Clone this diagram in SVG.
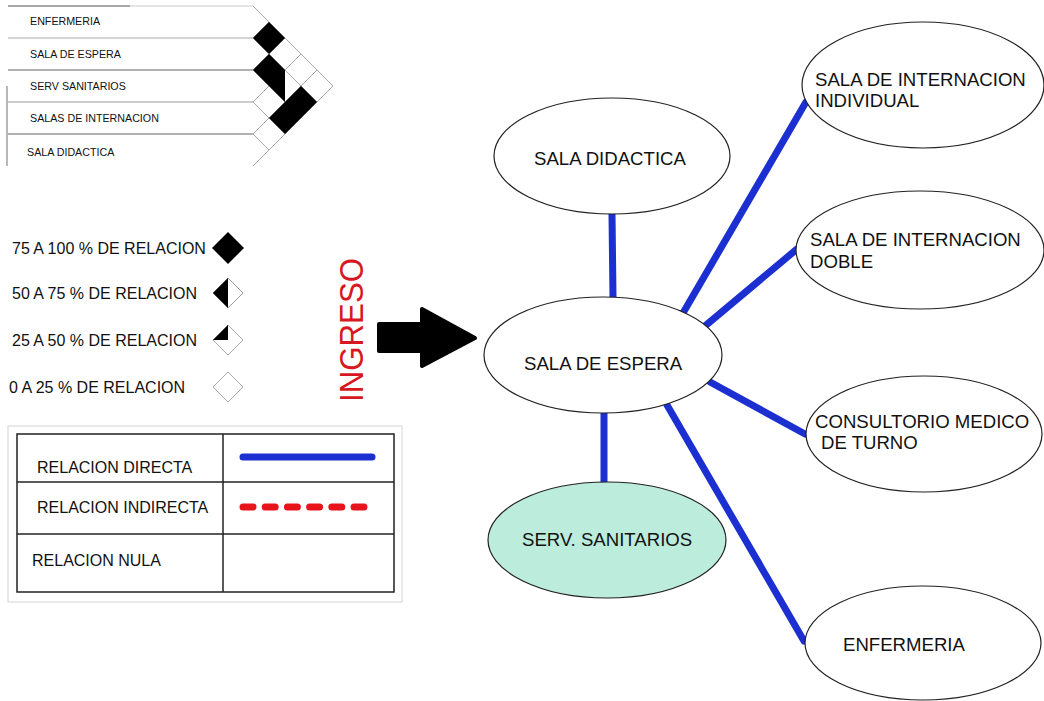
<svg xmlns="http://www.w3.org/2000/svg" width="1044" height="701" viewBox="0 0 1044 701">
<style>
text{font-family:"Liberation Sans",Arial,sans-serif;fill:#111}
.node ellipse{fill:#fff;stroke:#222;stroke-width:1.2}
.nt{font-size:18.6px}
.mt{font-size:10.7px}
.lt{font-size:16px}
.conn line{stroke:#1c2fd1;stroke-width:7;stroke-linecap:round}
.grid{stroke:#aaa;stroke-width:1;fill:none}
.row{stroke:#888;stroke-width:1.2}
.tbl{stroke:#222;stroke-width:1.5;fill:none}
</style>
<rect width="1044" height="701" fill="#fff"/>

<g id="matrix">
<line class="row" x1="8" y1="6" x2="130" y2="6" style="stroke:#555"/>
<line class="row" x1="130" y1="6" x2="253" y2="6" style="stroke:#ccc"/>
<line class="row" x1="8" y1="38" x2="253" y2="38" style="stroke:#aaa"/>
<line class="row" x1="8" y1="70" x2="253" y2="70" style="stroke:#666"/>
<line class="row" x1="8" y1="102" x2="253" y2="102" style="stroke:#999"/>
<line class="row" x1="8" y1="134" x2="253" y2="134" style="stroke:#666"/>
<line class="row" x1="7" y1="86" x2="7" y2="166" style="stroke:#888"/>
<text class="mt" x="30" y="25">ENFERMERIA</text>
<text class="mt" x="30" y="58">SALA DE ESPERA</text>
<text class="mt" x="30" y="90">SERV SANITARIOS</text>
<text class="mt" x="30" y="122">SALAS DE INTERNACION</text>
<text class="mt" x="27" y="156">SALA DIDACTICA</text>
<path class="grid" d="M253,6 L333,86 L253,166 M253,38 L317,102 M253,70 L301,118 M253,102 L285,134 M253,134 L269,150 M253,38 L269,22 M253,70 L285,38 M253,102 L301,54 M253,134 L317,70"/>
<polygon points="253,38 269,22 285,38 269,54" fill="#000"/>
<polygon points="253,70 269,54 285,70 285,102 269,86" fill="#000"/>
<polygon points="269,118 301,86 317,102 285,134" fill="#000"/>
</g>

<g id="legend-scale">
<text class="lt" x="12" y="254">75 A 100 % DE RELACION</text>
<polygon points="212,248 228,232 244,248 228,264" fill="#000"/>
<text class="lt" x="12" y="299">50 A 75 % DE RELACION</text>
<polygon points="213,293 228,278 243,293 228,308" fill="#fff" stroke="#999" stroke-width="1"/>
<polygon points="213,293 228,278 228,308" fill="#000"/>
<text class="lt" x="12" y="346">25 A 50 % DE RELACION</text>
<polygon points="213,340 228,325 243,340 228,355" fill="#fff" stroke="#aaa" stroke-width="1"/>
<polygon points="213,340 228,325 228,340" fill="#000"/>
<text class="lt" x="9" y="393">0 A 25 % DE RELACION</text>
<polygon points="213,387 228,372 243,387 228,402" fill="#fff" stroke="#aaa" stroke-width="1"/>
</g>

<g id="legend-lines">
<rect x="8" y="426" width="394" height="176" fill="none" stroke="#d4d4d4" stroke-width="1"/>
<rect class="tbl" x="17" y="434" width="377" height="158"/>
<line class="tbl" x1="223" y1="434" x2="223" y2="592"/>
<line class="tbl" x1="17" y1="482" x2="394" y2="482"/>
<line class="tbl" x1="17" y1="534" x2="394" y2="534"/>
<text class="lt" x="37" y="473">RELACION DIRECTA</text>
<text class="lt" x="37" y="513">RELACION INDIRECTA</text>
<text class="lt" x="32" y="566">RELACION NULA</text>
<line x1="243" y1="457" x2="372" y2="457" stroke="#1c2fd1" stroke-width="7" stroke-linecap="round"/>
<line x1="243" y1="507" x2="368" y2="507" stroke="#e8141c" stroke-width="7" stroke-linecap="round" stroke-dasharray="10 12.2"/>
</g>

<g id="ingreso">
<text x="0" y="0" transform="translate(363,402) rotate(-90)" font-size="34" textLength="144" lengthAdjust="spacingAndGlyphs" style="fill:#d81820">INGRESO</text>
<path d="M379,324 L422,324 L422,309 L475,338 L422,366 L422,351 L379,351 Z" fill="#000" stroke="#000" stroke-width="4" stroke-linejoin="round"/>
</g>

<g class="conn" id="connectors">
<line x1="612" y1="214" x2="613" y2="297"/>
<line x1="683" y1="313" x2="806" y2="102"/>
<line x1="705" y1="326" x2="797" y2="249"/>
<line x1="710" y1="382" x2="805" y2="434"/>
<line x1="604" y1="413" x2="604" y2="483"/>
<line x1="667" y1="405" x2="804" y2="641"/>
</g>

<g class="node" id="n-didactica">
<ellipse cx="612" cy="156" rx="118" ry="58"/>
<text class="nt" x="534" y="165">SALA DIDACTICA</text>
</g>
<g class="node" id="n-individual">
<ellipse cx="923" cy="85" rx="121" ry="63"/>
<text class="nt" x="815" y="86">SALA DE INTERNACION</text>
<text class="nt" x="815" y="107">INDIVIDUAL</text>
</g>
<g class="node" id="n-doble">
<ellipse cx="920" cy="250" rx="124" ry="59"/>
<text class="nt" x="810" y="246">SALA DE INTERNACION</text>
<text class="nt" x="810" y="268">DOBLE</text>
</g>
<g class="node" id="n-espera">
<ellipse cx="603" cy="355" rx="119" ry="58"/>
<text class="nt" x="524" y="370">SALA DE ESPERA</text>
</g>
<g class="node" id="n-consultorio">
<ellipse cx="924" cy="434" rx="118" ry="58"/>
<text class="nt" x="815" y="428">CONSULTORIO MEDICO</text>
<text class="nt" x="821" y="449">DE TURNO</text>
</g>
<g class="node" id="n-sanitarios">
<ellipse cx="607" cy="540" rx="119" ry="58" style="fill:#bcecdc"/>
<text class="nt" x="522" y="546">SERV. SANITARIOS</text>
</g>
<g class="node" id="n-enfermeria">
<ellipse cx="923" cy="643" rx="118" ry="57"/>
<text class="nt" x="843" y="651">ENFERMERIA</text>
</g>
</svg>
